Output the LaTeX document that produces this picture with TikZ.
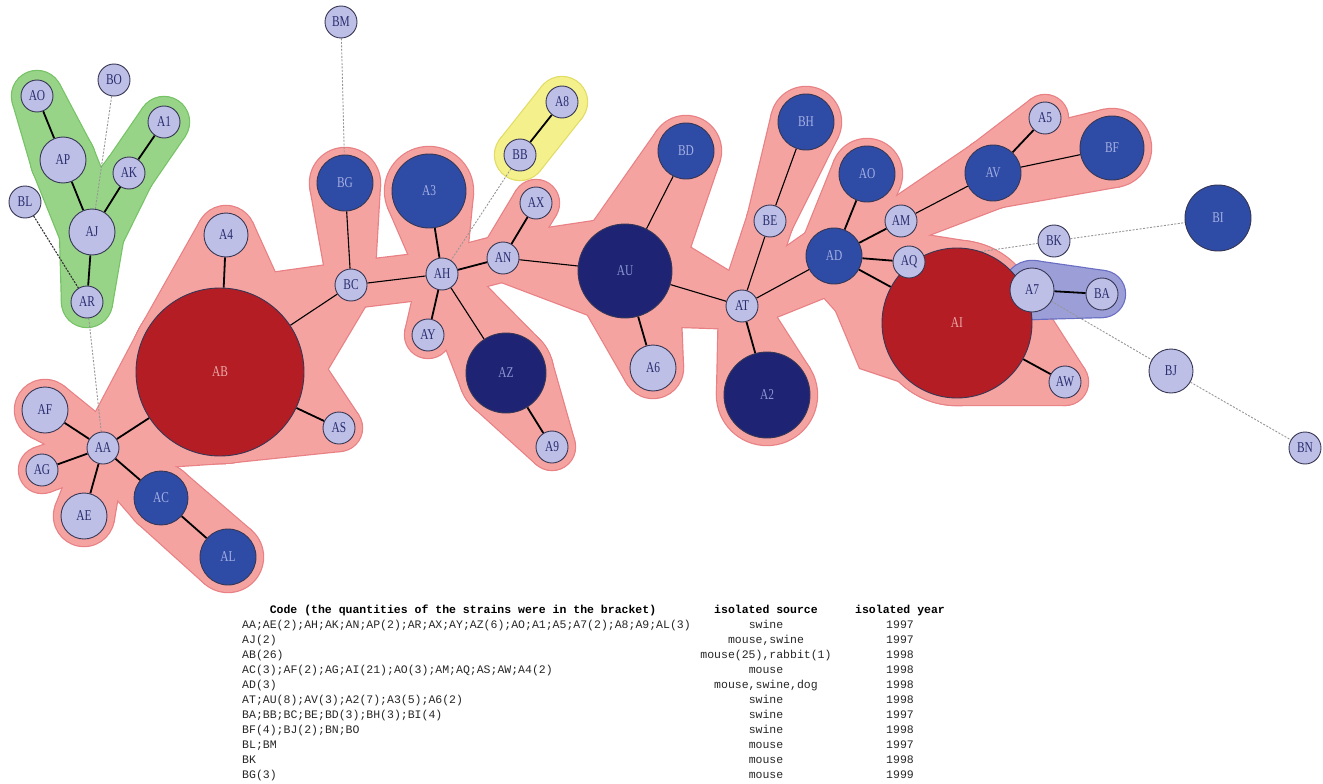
\documentclass[tikz,border=0pt]{standalone}
\usepackage{fontspec}
\setmainfont{Liberation Serif}
\newfontfamily\lblfont[FakeStretch=0.76]{Liberation Serif}
\newfontfamily\tabfont{Liberation Mono}
\usetikzlibrary{calc}
\pgfdeclarelayer{bgl}
\pgfdeclarelayer{hulls}
\pgfdeclarelayer{edges}
\pgfsetlayers{bgl,hulls,edges,main}

\definecolor{lav}{RGB}{190,191,230}
\definecolor{blu}{RGB}{46,76,165}
\definecolor{nav}{RGB}{30,36,115}
\definecolor{redn}{RGB}{180,29,36}
\definecolor{ndb}{RGB}{55,55,85}
\definecolor{ltx}{RGB}{40,45,110}
\definecolor{btx}{RGB}{165,175,228}
\definecolor{ntx}{RGB}{140,150,210}
\definecolor{rtx}{RGB}{235,170,170}
\definecolor{pinkh}{RGB}{245,163,161}
\definecolor{pinkb}{RGB}{232,128,132}
\definecolor{greenh}{RGB}{152,212,135}
\definecolor{greenb}{RGB}{118,195,102}
\definecolor{yelh}{RGB}{244,240,140}
\definecolor{yelb}{RGB}{226,220,100}
\definecolor{purh}{RGB}{156,158,216}
\definecolor{purb}{RGB}{105,110,195}
\definecolor{dashc}{RGB}{150,150,150}

\tikzset{
  base/.style={circle, draw=ndb, line width=0.9pt, inner sep=0pt,
    font=\lblfont\fontsize{15}{17}\selectfont},
  lt/.style={base, fill=lav, text=ltx, minimum size=#1},
  bl/.style={base, fill=blu, text=btx, minimum size=#1},
  nv/.style={base, fill=nav, text=ntx, minimum size=#1},
  rd/.style={base, fill=redn, text=rtx, minimum size=#1},
  ed/.style={line width=1.8pt, black},
  et/.style={line width=1.1pt, black},
  dsh/.style={dashc, line width=0.9pt, dash pattern=on 2pt off 1.5pt},
  dshk/.style={black!80, line width=1.1pt, dash pattern=on 2pt off 1.2pt},
  tabh/.style={font=\tabfont\bfseries\fontsize{11.5}{13}\selectfont, inner sep=0pt, anchor=base},
  tabc/.style={font=\tabfont\fontsize{11.5}{13}\selectfont, inner sep=0pt, text=black!85, anchor=base},
  tabl/.style={tabc, anchor=base west},
}

% hull of two padded circles
\newcommand\hs[5]{%
  \path[#1] let \p1=(#2), \p2=(#4),
      \n1={atan2(\y2-\y1,\x2-\x1)},
      \n2={asin((#3-#5)/veclen(\x2-\x1,\y2-\y1))} in
    ($(\p1)+({\n1+90-\n2}:#3pt)$) -- ($(\p2)+({\n1+90-\n2}:#5pt)$) --
    ($(\p2)+({\n1-90+\n2}:#5pt)$) -- ($(\p1)+({\n1-90+\n2}:#3pt)$) -- cycle;
  \path[#1] (#2) circle[radius=#3pt];
  \path[#1] (#4) circle[radius=#5pt];
}

\newcommand\pinkhull[1]{%
\hs{#1}{AA}{23}{AF}{30}
\hs{#1}{AA}{23}{AG}{23}
\hs{#1}{AA}{23}{AE}{30}
\hs{#1}{AA}{23}{AC}{34}
\hs{#1}{AC}{34}{AL}{35}
\hs{#1}{AA}{23}{AB}{91}
\hs{#1}{AB}{91}{A4}{29}
\hs{#1}{AB}{91}{AS}{23}
\hs{#1}{AB}{91}{BC}{23}
\hs{#1}{BC}{23}{BG}{35}
\hs{#1}{BC}{23}{AH}{23}
\hs{#1}{AH}{23}{A3}{44}
\hs{#1}{AH}{23}{AY}{23}
\hs{#1}{AH}{23}{AZ}{47}
\hs{#1}{AZ}{47}{A9}{23}
\hs{#1}{AH}{23}{AN}{23}
\hs{#1}{AN}{23}{AX}{23}
\hs{#1}{AN}{23}{AU}{54}
\hs{#1}{AU}{54}{BD}{35}
\hs{#1}{AU}{54}{A6}{30}
\hs{#1}{AU}{54}{AT}{23}
\hs{#1}{AT}{23}{A2}{50}
\hs{#1}{AT}{23}{BE}{23}
\hs{#1}{BE}{23}{BH}{35}
\hs{#1}{AT}{23}{AD}{35}
\hs{#1}{AD}{35}{AOb}{35}
\hs{#1}{AD}{35}{AM}{23}
\hs{#1}{AM}{23}{AV}{35}
\hs{#1}{AV}{35}{A5}{23}
\hs{#1}{AV}{35}{BF}{39}
\hs{#1}{AD}{35}{AQ}{23}
\hs{#1}{AD}{35}{AI}{82}
\hs{#1}{AI}{82}{AW}{23}
\path[#1] (824,282) -- (860,368) -- (899,381) -- (930,340) -- (880,275) -- cycle;
}
\newcommand\greenhull[1]{%
\hs{#1}{AOg}{25}{AP}{32}
\hs{#1}{AP}{32}{AJ}{32}
\hs{#1}{AJ}{32}{AK}{25}
\hs{#1}{AK}{25}{A1g}{25}
\hs{#1}{AJ}{32}{AR}{25}
}

\begin{document}
\begin{tikzpicture}[x=1pt,y=-1pt]
\useasboundingbox (0,0) rectangle (1323,784);
\begin{pgfonlayer}{bgl}
  \fill[white] (0,0) rectangle (1323,784);
\end{pgfonlayer}

% ---------- nodes ----------
% green group
\node[lt=32pt] (AOg) at (37,96) {AO};
\node[lt=32pt] (BO) at (114,80) {BO};
\node[lt=32pt] (A1g) at (164,122) {A1};
\node[lt=46pt] (AP) at (63,160) {AP};
\node[lt=32pt] (AK) at (129,173) {AK};
\node[lt=32pt] (BL) at (25,202) {BL};
\node[lt=46pt] (AJ) at (92,232) {AJ};
\node[lt=32pt] (AR) at (87,302) {AR};
% left part
\node[rd=168pt] (AB) at (220,372) {AB};
\node[lt=44pt] (A4) at (226,235) {A4};
\node[lt=46pt] (AF) at (45,410) {AF};
\node[lt=32pt] (AA) at (103,448) {AA};
\node[lt=32pt] (AS) at (339,428) {AS};
\node[lt=32pt] (AG) at (42,470) {AG};
\node[bl=54pt] (AC) at (161,498) {AC};
\node[lt=46pt] (AE) at (84,516) {AE};
\node[bl=56pt] (AL) at (228,557) {AL};
% middle
\node[lt=32pt] (BM) at (341,22) {BM};
\node[bl=56pt] (BG) at (345,183) {BG};
\node[bl=74pt] (A3) at (429,191) {A3};
\node[lt=32pt] (BC) at (351,285) {BC};
\node[lt=32pt] (AH) at (442,274) {AH};
\node[lt=32pt] (AY) at (428,335) {AY};
\node[nv=80pt] (AZ) at (506,373) {AZ};
\node[lt=32pt] (A9) at (552,447) {A9};
\node[lt=32pt] (A8) at (562,102) {A8};
\node[lt=32pt] (BB) at (520,155) {BB};
\node[lt=32pt] (AX) at (536,203) {AX};
\node[lt=32pt] (AN) at (503,258) {AN};
\node[nv=94pt] (AU) at (625,271) {AU};
\node[bl=56pt] (BD) at (686,151) {BD};
\node[lt=46pt] (A6) at (653,368) {A6};
\node[lt=32pt] (AT) at (742,306) {AT};
\node[nv=86pt] (A2) at (767,395) {A2};
\node[lt=32pt] (BE) at (770,221) {BE};
\node[bl=56pt] (BH) at (806,122) {BH};
% right part
\node[rd=150pt] (AI) at (957,323) {AI};
\node[bl=56pt] (AD) at (834,256) {AD};
\node[bl=56pt] (AOb) at (867,174) {AO};
\node[lt=32pt] (AM) at (901,221) {AM};
\node[lt=32pt] (AQ) at (909,262) {AQ};
\node[bl=56pt] (AV) at (993,173) {AV};
\node[lt=32pt] (A5) at (1045,118) {A5};
\node[bl=64pt] (BF) at (1112,148) {BF};
\node[lt=32pt] (BK) at (1054,241) {BK};
\node[bl=66pt] (BI) at (1218,218) {BI};
\node[lt=44pt] (A7) at (1032,290) {A7};
\node[lt=32pt] (BA) at (1102,294) {BA};
\node[lt=32pt] (AW) at (1065,382) {AW};
\node[lt=44pt] (BJ) at (1171,371) {BJ};
\node[lt=32pt] (BN) at (1305,448) {BN};

% ---------- hulls ----------
\begin{pgfonlayer}{hulls}
  \greenhull{fill=greenb,draw=greenb,line width=2.4pt}
  \greenhull{fill=greenh}
  \hs{fill=yelb,draw=yelb,line width=2.4pt}{A8}{25}{BB}{25}
  \hs{fill=yelh}{A8}{25}{BB}{25}
  \pinkhull{fill=pinkb,draw=pinkb,line width=2.4pt}
  \pinkhull{fill=pinkh}
  \hs{fill=purb,draw=purb,line width=2.4pt}{A7}{29}{BA}{23}
  \hs{fill=purh}{A7}{29}{BA}{23}
\end{pgfonlayer}

% ---------- connectors ----------
\begin{pgfonlayer}{edges}
  % green
  \draw[ed] (AOg) -- (AP);
  \draw[ed] (AP) -- (AJ);
  \draw[ed] (AJ) -- (AK);
  \draw[ed] (AK) -- (A1g);
  \draw[ed] (AJ) -- (AR);
  % left
  \draw[ed] (AA) -- (AF);
  \draw[ed] (AA) -- (AG);
  \draw[ed] (AA) -- (AE);
  \draw[ed] (AA) -- (AC);
  \draw[ed] (AC) -- (AL);
  \draw[ed] (AA) -- (AB);
  \draw[ed] (AB) -- (A4);
  \draw[ed] (AB) -- (AS);
  \draw[et] (AB) -- (BC);
  \draw[et] (BC) -- (BG);
  \draw[et] (BC) -- (AH);
  % middle
  \draw[ed] (AH) -- (A3);
  \draw[ed] (AH) -- (AY);
  \draw[et] (AH) -- (AZ);
  \draw[ed] (AZ) -- (A9);
  \draw[ed] (AH) -- (AN);
  \draw[ed] (AN) -- (AX);
  \draw[et] (AN) -- (AU);
  \draw[et] (AU) -- (BD);
  \draw[ed] (AU) -- (A6);
  \draw[et] (AU) -- (AT);
  \draw[ed] (AT) -- (A2);
  \draw[et] (AT) -- (BE);
  \draw[et] (BE) -- (BH);
  \draw[et] (AT) -- (AD);
  % right
  \draw[ed] (AD) -- (AOb);
  \draw[ed] (AD) -- (AM);
  \draw[et] (AM) -- (AV);
  \draw[ed] (AV) -- (A5);
  \draw[et] (AV) -- (BF);
  \draw[ed] (AD) -- (AQ);
  \draw[ed] (AD) -- (AI);
  \draw[ed] (AI) -- (AW);
  \draw[ed] (A7) -- (BA);
  \draw[ed] (A8) -- (BB);
  % dashed
  \draw[dsh] (BM) -- (BG);
  \draw[dsh] (BO) -- (AJ);
  \draw[dshk] (BL) -- (AR);
  \draw[dsh] (AR) -- (AA);
  \draw[dsh] (BB) -- (AH);
  \draw[dsh] (AQ) -- (BK);
  \draw[dsh] (BK) -- (BI);
  \draw[dsh] (A7) -- (BJ);
  \draw[dsh] (BJ) -- (BN);
\end{pgfonlayer}

% ---------- table ----------
\node[tabh] (hcode) at (463,613) {Code (the quantities of the strains were in the bracket)};
\node[tabh] (hsrc) at (766,613) {isolated source};
\node[tabh] (hyear) at (900,613) {isolated year};

\node[tabl] (c1) at (242,628) {AA;AE(2);AH;AK;AN;AP(2);AR;AX;AY;AZ(6);AO;A1;A5;A7(2);A8;A9;AL(3)};
\node[tabl] (c2) at (242,643) {AJ(2)};
\node[tabl] (c3) at (242,658) {AB(26)};
\node[tabl] (c4) at (242,673) {AC(3);AF(2);AG;AI(21);AO(3);AM;AQ;AS;AW;A4(2)};
\node[tabl] (c5) at (242,688) {AD(3)};
\node[tabl] (c6) at (242,703) {AT;AU(8);AV(3);A2(7);A3(5);A6(2)};
\node[tabl] (c7) at (242,718) {BA;BB;BC;BE;BD(3);BH(3);BI(4)};
\node[tabl] (c8) at (242,733) {BF(4);BJ(2);BN;BO};
\node[tabl] (c9) at (242,748) {BL;BM};
\node[tabl] (c10) at (242,763) {BK};
\node[tabl] (c11) at (242,778) {BG(3)};

\node[tabc] (s1) at (766,628) {swine};
\node[tabc] (s2) at (766,643) {mouse,swine};
\node[tabc] (s3) at (766,658) {mouse(25),rabbit(1)};
\node[tabc] (s4) at (766,673) {mouse};
\node[tabc] (s5) at (766,688) {mouse,swine,dog};
\node[tabc] (s6) at (766,703) {swine};
\node[tabc] (s7) at (766,718) {swine};
\node[tabc] (s8) at (766,733) {swine};
\node[tabc] (s9) at (766,748) {mouse};
\node[tabc] (s10) at (766,763) {mouse};
\node[tabc] (s11) at (766,778) {mouse};

\node[tabc] (y1) at (900,628) {1997};
\node[tabc] (y2) at (900,643) {1997};
\node[tabc] (y3) at (900,658) {1998};
\node[tabc] (y4) at (900,673) {1998};
\node[tabc] (y5) at (900,688) {1998};
\node[tabc] (y6) at (900,703) {1998};
\node[tabc] (y7) at (900,718) {1997};
\node[tabc] (y8) at (900,733) {1998};
\node[tabc] (y9) at (900,748) {1997};
\node[tabc] (y10) at (900,763) {1998};
\node[tabc] (y11) at (900,778) {1999};
\end{tikzpicture}
\end{document}
